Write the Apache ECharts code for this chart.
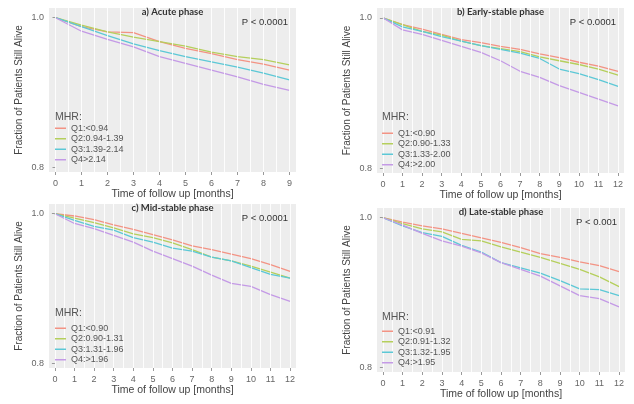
<!DOCTYPE html>
<html>
<head>
<meta charset="utf-8">
<script src="https://cdn.jsdelivr.net/npm/echarts@6/dist/echarts.min.js"></script>
<style>html,body{margin:0;padding:0;background:#fff}#c{width:634px;height:404px}</style>
</head>
<body>
<div id="c"></div>
<script>
// ---- data ----
const monthsA = [0,1,2,3,4,5,6,7,8,9];
const monthsB = [0,1,2,3,4,5,6,7,8,9,10,11,12];

const panelTitles = ["a) Acute phase", "b) Early-stable phase", "c) Mid-stable phase", "d) Late-stable phase"];
const pValues = ["P < 0.0001", "P < 0.0001", "P < 0.0001", "P < 0.001"];

const legendA = ["Q1:<0.94", "Q2:0.94-1.39", "Q3:1.39-2.14", "Q4>2.14"];
const legendB = ["Q1:<0.90", "Q2:0.90-1.33", "Q3:1.33-2.00", "Q4:>2.00"];
const legendC = ["Q1:<0.90", "Q2:0.90-1.31", "Q3:1.31-1.96", "Q4:>1.96"];
const legendD = ["Q1:<0.91", "Q2:0.91-1.32", "Q3:1.32-1.95", "Q4:>1.95"];

// a) Acute phase
const aQ1 = [1.0, 0.988, 0.981, 0.980, 0.968, 0.959, 0.952, 0.944, 0.938, 0.930];
const aQ2 = [1.0, 0.990, 0.981, 0.974, 0.968, 0.962, 0.954, 0.948, 0.944, 0.937];
const aQ3 = [1.0, 0.988, 0.976, 0.965, 0.956, 0.948, 0.941, 0.934, 0.926, 0.917];
const aQ4 = [1.0, 0.982, 0.971, 0.961, 0.948, 0.939, 0.930, 0.921, 0.911, 0.903];
// b) Early-stable phase
const bQ1 = [1.0, 0.991, 0.985, 0.978, 0.971, 0.967, 0.962, 0.958, 0.952, 0.947, 0.941, 0.936, 0.929];
const bQ2 = [1.0, 0.991, 0.982, 0.977, 0.969, 0.963, 0.959, 0.955, 0.948, 0.943, 0.938, 0.932, 0.924];
const bQ3 = [1.0, 0.988, 0.982, 0.975, 0.969, 0.963, 0.958, 0.953, 0.946, 0.932, 0.926, 0.918, 0.909];
const bQ4 = [1.0, 0.984, 0.978, 0.970, 0.962, 0.954, 0.943, 0.929, 0.921, 0.910, 0.901, 0.892, 0.883];
// c) Mid-stable phase
const cQ1 = [1.0, 0.997, 0.992, 0.985, 0.979, 0.972, 0.965, 0.957, 0.952, 0.946, 0.940, 0.932, 0.923];
const cQ2 = [1.0, 0.994, 0.988, 0.981, 0.973, 0.968, 0.961, 0.952, 0.942, 0.937, 0.930, 0.922, 0.914];
const cQ3 = [1.0, 0.991, 0.983, 0.978, 0.968, 0.962, 0.954, 0.950, 0.942, 0.937, 0.928, 0.919, 0.914];
const cQ4 = [1.0, 0.987, 0.980, 0.971, 0.962, 0.950, 0.940, 0.930, 0.918, 0.907, 0.903, 0.892, 0.883];
// d) Late-stable phase
const dQ1 = [1.0, 0.994, 0.989, 0.985, 0.979, 0.973, 0.967, 0.960, 0.952, 0.947, 0.941, 0.936, 0.928];
const dQ2 = [1.0, 0.992, 0.985, 0.981, 0.971, 0.969, 0.961, 0.954, 0.947, 0.939, 0.931, 0.921, 0.908];
const dQ3 = [1.0, 0.989, 0.980, 0.975, 0.963, 0.954, 0.940, 0.933, 0.926, 0.916, 0.905, 0.904, 0.896];
const dQ4 = [1.0, 0.990, 0.979, 0.969, 0.962, 0.953, 0.940, 0.931, 0.922, 0.909, 0.896, 0.892, 0.881];

const yTicks = [0.8, 1.0];
const gridLinesA = [0,0.5,1,1.5,2,2.5,3,3.5,4,4.5,5,5.5,6,6.5,7,7.5,8,8.5,9];
const gridLinesB = [0,0.5,1,1.5,2,2.5,3,3.5,4,4.5,5,5.5,6,6.5,7,7.5,8,8.5,9,9.5,10,10.5,11,11.5,12];

// ---- layout / style ----
const colors = ["#f39384", "#b5cf5c", "#5cc8d6", "#c49ae6"];
const panels = [
  {months: monthsA, series: [aQ1,aQ2,aQ3,aQ4], legend: legendA, gl: gridLinesA,
   grid: {left: 49, top: 8, width: 247, height: 164}, xmin: -0.25, xmax: 9.25},
  {months: monthsB, series: [bQ1,bQ2,bQ3,bQ4], legend: legendB, gl: gridLinesB,
   grid: {left: 377, top: 8, width: 247, height: 165}, xmin: -0.3, xmax: 12.3},
  {months: monthsB, series: [cQ1,cQ2,cQ3,cQ4], legend: legendC, gl: gridLinesB,
   grid: {left: 49, top: 204, width: 247, height: 164}, xmin: -0.3, xmax: 12.3},
  {months: monthsB, series: [dQ1,dQ2,dQ3,dQ4], legend: legendD, gl: gridLinesB,
   grid: {left: 377, top: 208, width: 248, height: 164}, xmin: -0.3, xmax: 12.3}
];
const legendPos = [
  {left: 55, top: 123, titleY: 118},
  {left: 382, top: 128, titleY: 118},
  {left: 55, top: 323, titleY: 314},
  {left: 382, top: 326, titleY: 318}
];
const fam = "Liberation Sans, Arial, sans-serif";

const grids = [], xAxes = [], yAxes = [], series = [], legends = [], graphics = [];
panels.forEach((p, i) => {
  grids.push(Object.assign({show: true, backgroundColor: "#ededed", borderWidth: 0}, p.grid));
  xAxes.push({
    type: "value", gridIndex: i, min: p.xmin, max: p.xmax,
    axisLine: {show: false},
    axisTick: {show: true, customValues: p.months, length: 3, lineStyle: {color: "#999"}},
    axisLabel: {customValues: p.months, color: "#666", fontSize: 9, fontFamily: fam, margin: 7},
    splitLine: {show: false}
  });
  yAxes.push({
    type: "value", gridIndex: i, min: 0.794, max: 1.013,
    axisLine: {show: false},
    axisTick: {show: true, customValues: yTicks, length: 3, lineStyle: {color: "#999"}},
    axisLabel: {customValues: yTicks, color: "#666", fontSize: 9, fontFamily: fam, margin: 5,
      formatter: v => Number(v).toFixed(1)},
    splitLine: {show: false}
  });
  // white vertical grid lines
  series.push({
    type: "line", xAxisIndex: i, yAxisIndex: i, data: [[0, 1]], symbol: "none",
    lineStyle: {opacity: 0}, silent: true, z: 1, legendHoverLink: false,
    markLine: {silent: true, symbol: ["none", "none"], label: {show: false},
      lineStyle: {color: "#ffffff", width: 1, type: "solid", opacity: 0.85},
      animation: false, data: p.gl.map(v => ({xAxis: v}))}
  });
  p.series.forEach((vals, k) => {
    series.push({
      name: p.legend[k], type: "line", xAxisIndex: i, yAxisIndex: i,
      data: p.months.map((m, j) => [m, vals[j]]),
      symbol: "none", z: 3, color: colors[k],
      lineStyle: {width: 1.3, color: colors[k]}
    });
  });
  legends.push({
    data: p.legend.map(n => ({name: n, icon: "rect"})), orient: "vertical",
    left: legendPos[i].left, top: legendPos[i].top, z: 20,
    itemWidth: 11, itemHeight: 1.5, itemGap: 0, padding: 0, selectedMode: false,
    textStyle: {fontSize: 9, lineHeight: 10.5, color: "#555", fontFamily: fam}
  });
  graphics.push({type: "text", z: 20, left: legendPos[i].left, top: legendPos[i].titleY - 6,
    style: {text: "MHR:", fontSize: 10.5, fill: "#555", fontFamily: fam}});
  const cx = p.grid.left + p.grid.width / 2;
  graphics.push({type: "text", z: 20, x: cx, y: p.grid.top + 4, style: {text: panelTitles[i],
    fontSize: 9.5, fontWeight: "bold", fill: "#333", fontFamily: "Lato, sans-serif", align: "center", verticalAlign: "middle"}});
  graphics.push({type: "text", z: 20, x: p.grid.left + p.grid.width - 8, y: p.grid.top + 14,
    style: {text: pValues[i], fontSize: 9.5, fill: "#333", fontFamily: fam, align: "right", verticalAlign: "middle"}});
  graphics.push({type: "text", z: 20, x: cx, y: p.grid.top + p.grid.height + 22,
    style: {text: "Time of follow up [months]", fontSize: 10.5, fill: "#444", fontFamily: fam, align: "center", verticalAlign: "middle"}});
  graphics.push({type: "text", z: 20, x: p.grid.left - 30, y: p.grid.top + p.grid.height / 2, rotation: Math.PI / 2,
    style: {text: "Fraction of Patients Still Alive", fontSize: 10, fill: "#444", fontFamily: fam, align: "center", verticalAlign: "middle"}});
});

const chart = echarts.init(document.getElementById("c"), null, {renderer: "canvas"});
chart.setOption({
  animation: false,
  backgroundColor: "#ffffff",
  grid: grids, xAxis: xAxes, yAxis: yAxes, series: series, legend: legends, graphic: graphics
});
</script>
</body>
</html>
